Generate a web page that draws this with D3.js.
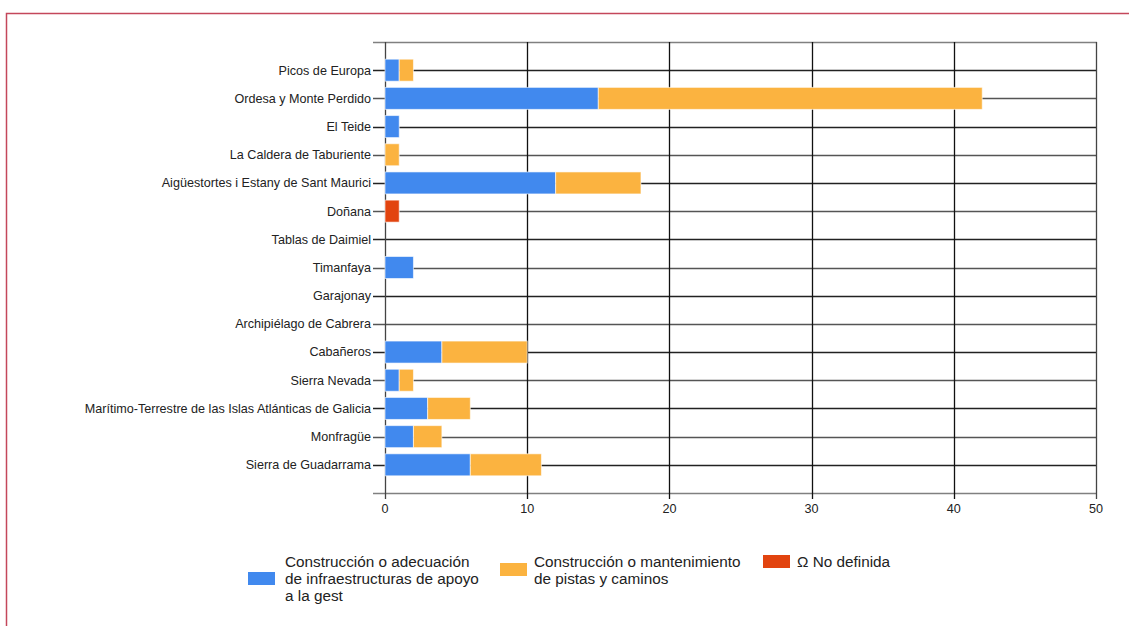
<!DOCTYPE html>
<html><head><meta charset="utf-8">
<script src="https://cdn.jsdelivr.net/npm/d3@7"></script>
<style>body{margin:0;background:#fff;}svg{display:block;}</style>
</head><body>
<svg id="c" width="1129" height="626"></svg>
<script>
const categories = ["Picos de Europa","Ordesa y Monte Perdido","El Teide","La Caldera de Taburiente","Aigüestortes i Estany de Sant Maurici","Doñana","Tablas de Daimiel","Timanfaya","Garajonay","Archipiélago de Cabrera","Cabañeros","Sierra Nevada","Marítimo-Terrestre de las Islas Atlánticas de Galicia","Monfragüe","Sierra de Guadarrama"];
const seriesNames = ["Construcción o adecuación de infraestructuras de apoyo a la gest","Construcción o mantenimiento de pistas y caminos","Ω No definida"];
const infraestructuras = [1,15,1,0,12,0,0,2,0,0,4,1,3,2,6];
const pistas = [1,27,0,1,6,0,0,0,0,0,6,1,3,2,5];
const noDefinida = [0,0,0,0,0,1,0,0,0,0,0,0,0,0,0];
const xTicks = [0,10,20,30,40,50];
const colors = ["#4189ee","#fbb340","#e2440f"];
const legendLines = [["Construcción o adecuación","de infraestructuras de apoyo","a la gest"],["Construcción o mantenimiento","de pistas y caminos"],["Ω No definida"]];

(function(){
const svg = d3.select("#c");
const font = "'Liberation Sans', Arial, sans-serif";
// outer border
svg.append("rect").attr("x",6.5).attr("y",13.5).attr("width",1200).attr("height",700)
  .attr("fill","none").attr("stroke","#c4475b").attr("stroke-width",1.5);

const L=385, R=1096, T=42, B=493;
const x = d3.scaleLinear().domain([0,50]).range([L,R]);
const y = d3.scalePoint().domain(categories).range([T,B]).padding(1);
const barH = 22;

const data = categories.map((c,i)=>({cat:c, vals:[infraestructuras[i],pistas[i],noDefinida[i]]}));
const stack = d3.stack().keys([0,1,2]).value((d,k)=>d.vals[k])(data);

// horizontal grid lines at categories
svg.append("g").selectAll("line").data(categories).join("line")
  .attr("x1",373).attr("x2",R).attr("y1",d=>Math.round(y(d))+0.5).attr("y2",d=>Math.round(y(d))+0.5)
  .attr("stroke",(d,i)=>i%2? "#555":"#222").attr("stroke-width",1.3);
// top and bottom lines
[T,B].forEach(v=>svg.append("line").attr("x1",373).attr("x2",R+1).attr("y1",v+0.5).attr("y2",v+0.5)
  .attr("stroke","#808080").attr("stroke-width",1.6));
// vertical grid lines
svg.append("g").selectAll("line").data(xTicks).join("line")
  .attr("x1",d=>Math.round(x(d))+0.5).attr("x2",d=>Math.round(x(d))+0.5)
  .attr("y1",T).attr("y2",B+6)
  .attr("stroke",(d,i)=>(i==0||i==xTicks.length-1)?"#444":"#111").attr("stroke-width",1.3);

// bars
svg.append("g").selectAll("g").data(stack).join("g").attr("fill",(d,i)=>colors[i])
  .selectAll("rect").data(d=>d.filter(s=>s[1]-s[0]>0)).join("rect")
  .attr("x",d=>x(d[0])).attr("width",d=>x(d[1])-x(d[0]))
  .attr("y",d=>y(d.data.cat)-barH/2).attr("height",barH)
  .attr("stroke","rgba(255,255,255,0.6)").attr("stroke-width",1);

// category labels
svg.append("g").selectAll("text").data(categories).join("text")
  .attr("x",371).attr("y",d=>y(d)).attr("dy","0.35em").attr("text-anchor","end")
  .attr("font-family",font).attr("font-size",12.6).attr("fill","#222").text(d=>d);

// x tick labels
svg.append("g").selectAll("text").data(xTicks).join("text")
  .attr("x",d=>x(d)).attr("y",513).attr("text-anchor","middle")
  .attr("font-family",font).attr("font-size",12.6).attr("fill","#222").text(d=>d);

// legend
const legPos = [{sx:248,sy:572,tx:285},{sx:500,sy:563,tx:534},{sx:763,sy:555,tx:797}];
legendLines.forEach((lines,i)=>{
  const p=legPos[i];
  svg.append("rect").attr("x",p.sx).attr("y",p.sy).attr("width",27).attr("height",13).attr("fill",colors[i]);
  const t=svg.append("text").attr("font-family",font).attr("font-size",15.3).attr("fill","#222");
  lines.forEach((l,j)=>t.append("tspan").attr("x",p.tx).attr("y",567+j*17).text(l));
});
})();
</script>
</body></html>
